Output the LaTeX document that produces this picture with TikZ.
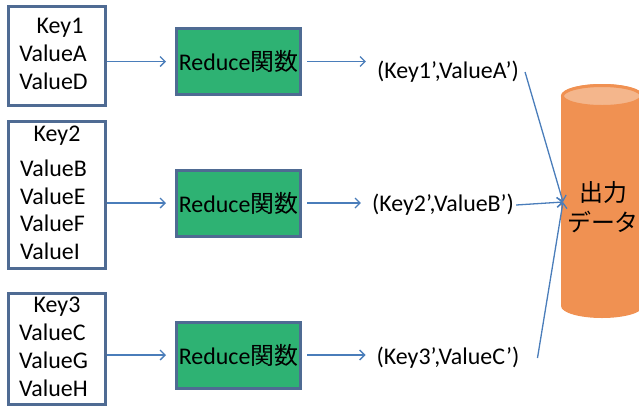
\documentclass[tikz,border=0pt]{standalone}
\usepackage{fontspec}
\setmainfont{Carlito}
\newfontfamily\jp{Noto Sans CJK JP}
\usetikzlibrary{arrows.meta}
\definecolor{boxline}{HTML}{4F6B93}
\definecolor{redfill}{HTML}{2EB273}
\definecolor{flowblue}{HTML}{4A7DBA}
\definecolor{dbbody}{HTML}{F09152}
\definecolor{dbtop}{HTML}{F4B68C}

\begin{document}
\begin{tikzpicture}[x=1bp,y=-1bp,>={Straight Barb[length=5bp,width=10bp]},
  every node/.style={font=\fontsize{24}{28}\selectfont},
  kvbox/.style={draw=boxline,line width=3bp,fill=white,minimum width=97bp,inner sep=0pt},
  redbox/.style={draw=boxline,line width=3bp,fill=redfill,minimum width=124bp,
    minimum height=66bp,inner sep=0pt},
  flow/.style={->,flowblue,line width=1.3bp}]
  \clip (0,0) rectangle (639,405);
  \node[kvbox,minimum height=99bp] (kv1) at (57,56)
    {\begin{tabular}{@{}l@{\hspace{7bp}}}\multicolumn{1}{@{\hspace{6bp}}c@{}}{Key1}\\ValueA\\ValueD\end{tabular}};
  \node[kvbox,minimum height=145bp] (kv2) at (57,195)
    {\begin{tabular}{@{}l@{\hspace{7bp}}}\multicolumn{1}{@{}c@{}}{Key2}\\[7bp]ValueB\\ValueE\\ValueF\\ValueI\end{tabular}};
  \node[kvbox,minimum height=107bp] (kv3) at (57,349)
    {\begin{tabular}{@{}l@{\hspace{7bp}}}\multicolumn{1}{@{}c@{}}{Key3}\\ValueC\\ValueG\\ValueH\end{tabular}};
  \node[redbox] (rd1) at (238.5,61.5) {Reduce{\jp 関数}};
  \node[redbox] (rd2) at (238.5,203) {Reduce{\jp 関数}};
  \node[redbox] (rd3) at (238.5,355) {Reduce{\jp 関数}};
  \node[inner sep=2bp] (out1) at (448,72) {(Key1’,ValueA’)};
  \node[inner sep=2bp] (out2) at (443,205) {(Key2’,ValueB’)};
  \node[inner sep=2bp] (out3) at (448,358) {(Key3’,ValueC’)};
  \fill[dbbody] (561,96) -- (561,306) arc[start angle=180,end angle=360,x radius=41bp,y radius=12bp]
    -- (643,96) arc[start angle=0,end angle=180,x radius=41bp,y radius=12bp] -- cycle;
  \draw[dbbody,fill=dbtop,line width=3bp] (602,96) ellipse [x radius=39.5bp,y radius=10.5bp];
  \node[align=center,inner sep=0pt] (db) at (603,207) {\jp 出力\\[2bp]\jp データ};
  \coordinate (dbin) at (563,202);
  \foreach \i in {1,2,3} {
    \draw[flow,shorten >=9bp] (kv\i.east |- rd\i.west) -- (rd\i.west);
    \draw[flow,shorten <=5bp,shorten >=9bp] (rd\i.east) -- (rd\i.east -| out\i.west);
  }
  \draw[flow] ([xshift=4bp]out1.east) -- (dbin);
  \draw[flow] (out2.east) -- (dbin);
  \draw[flow] ([xshift=16bp]out3.east) -- (dbin);
\end{tikzpicture}
\end{document}
